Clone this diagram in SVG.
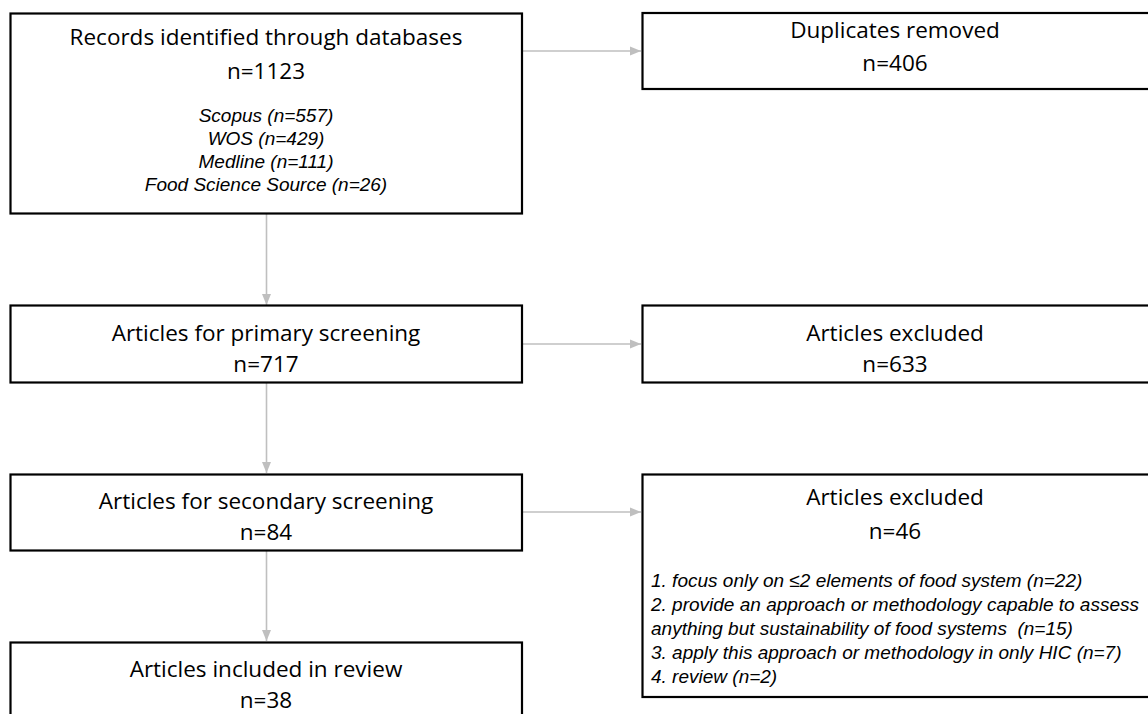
<svg xmlns="http://www.w3.org/2000/svg" width="1148" height="714" viewBox="0 0 1148 714">
<style>
.box{fill:#fff;stroke:#000;stroke-width:2.2}
.t{font-family:"Open Sans","Noto Sans",sans-serif;font-size:22.5px;fill:#000;text-anchor:middle}
.i{font-family:"Liberation Sans",Arial,sans-serif;font-size:19px;font-style:italic;fill:#000}
.c{text-anchor:middle}
.conn{stroke:#bfbfbf;stroke-width:1.6;fill:none}
</style>
<defs>
<marker id="ah" markerUnits="userSpaceOnUse" markerWidth="12" markerHeight="12" viewBox="0 0 12 12" refX="11" refY="6" orient="auto">
<path d="M0,1.5 L11,6 L0,10.5 Z" fill="#bfbfbf"/>
</marker>
</defs>
<rect width="1148" height="714" fill="#fff"/>
<g id="connectors">
<line class="conn" x1="522" y1="51" x2="641" y2="51" marker-end="url(#ah)"/>
<line class="conn" x1="266.5" y1="214" x2="266.5" y2="305" marker-end="url(#ah)"/>
<line class="conn" x1="522" y1="344" x2="641" y2="344" marker-end="url(#ah)"/>
<line class="conn" x1="266.5" y1="383" x2="266.5" y2="473" marker-end="url(#ah)"/>
<line class="conn" x1="522" y1="512" x2="641" y2="512" marker-end="url(#ah)"/>
<line class="conn" x1="266.5" y1="551" x2="266.5" y2="641" marker-end="url(#ah)"/>
</g>
<g id="records">
<rect class="box" x="10.5" y="13.5" width="511.5" height="200"/>
<text class="t" x="266" y="45">Records identified through databases</text>
<text class="t" x="266" y="79">n=1123</text>
<text class="i c" x="266" y="122">Scopus (n=557)</text>
<text class="i c" x="266" y="145">WOS (n=429)</text>
<text class="i c" x="266" y="168">Medline (n=111)</text>
<text class="i c" x="266" y="191">Food Science Source (n=26)</text>
</g>
<g id="duplicates">
<rect class="box" x="642.5" y="13" width="510" height="76"/>
<text class="t" x="895" y="38">Duplicates removed</text>
<text class="t" x="895" y="71">n=406</text>
</g>
<g id="primary">
<rect class="box" x="10.5" y="305.5" width="511.5" height="77"/>
<text class="t" x="266" y="341">Articles for primary screening</text>
<text class="t" x="266" y="372">n=717</text>
</g>
<g id="excluded1">
<rect class="box" x="642.5" y="305.5" width="510" height="77"/>
<text class="t" x="895" y="341">Articles excluded</text>
<text class="t" x="895" y="372">n=633</text>
</g>
<g id="secondary">
<rect class="box" x="10.5" y="474.5" width="511.5" height="76"/>
<text class="t" x="266" y="509">Articles for secondary screening</text>
<text class="t" x="266" y="540">n=84</text>
</g>
<g id="excluded2">
<rect class="box" x="642.5" y="474.5" width="510" height="222.5"/>
<text class="t" x="895" y="505">Articles excluded</text>
<text class="t" x="895" y="539">n=46</text>
<text class="i" x="651" y="587">1. focus only on ≤2 elements of food system (n=22)</text>
<text class="i" x="651" y="611">2. provide an approach or methodology capable to assess</text>
<text class="i" x="651" y="635" xml:space="preserve">anything but sustainability of food systems  (n=15)</text>
<text class="i" x="651" y="659">3. apply this approach or methodology in only HIC (n=7)</text>
<text class="i" x="651" y="683">4. review (n=2)</text>
</g>
<g id="included">
<rect class="box" x="10.5" y="642.5" width="511.5" height="80"/>
<text class="t" x="266" y="677">Articles included in review</text>
<text class="t" x="266" y="708">n=38</text>
</g>
</svg>
